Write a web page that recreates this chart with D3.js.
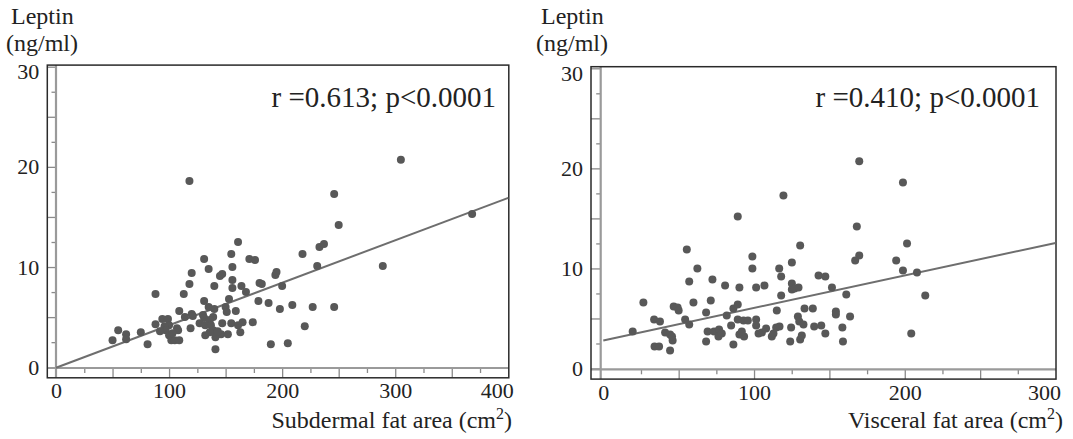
<!DOCTYPE html>
<html>
<head>
<meta charset="utf-8">
<script src="https://cdn.jsdelivr.net/npm/d3@7"></script>
<style>
  body { margin: 0; background: #fff; }
  svg text { font-family: "Liberation Serif", "Times New Roman", serif; fill: #222; }
</style>
</head>
<body>
<div id="chart"></div>
<script>
var width  = 1073;
var height = 439;

// Leptin (ng/ml) vs subdermal fat area (cm2)
var subX = [118,305,246,250,368,161,218,233,237,131,155,171,176,135,156,231,289,120,145,147,
            194,195,156,118,140,156,164,180,182,200,168,88,113,153,131,179,188,209,135,140,
            150,151,159,109,198,227,246,120,121,114,130,131,139,136,94,99,88,100,96,107,
            119,127,132,137,147,155,161,165,174,55,75,62,62,50,81,97,100,102,105,109,
            108,132,139,141,146,152,163,141,190,205,220,92,103,136,143];
var subY = [18.6,20.7,17.3,14.2,15.3,12.5,11.3,12.0,12.3,10.8,11.3,10.8,10.7,9.8,10.0,10.1,10.1,9.4,9.1,9.3,
            9.2,9.5,8.7,8.3,8.1,7.9,8.1,8.4,8.3,8.1,7.5,7.3,7.3,6.8,6.6,6.6,6.4,6.2,6.0,5.8,
            6.0,5.5,5.6,5.6,5.8,6.0,6.0,5.3,5.1,5.0,5.2,4.9,5.0,4.7,4.8,4.8,4.3,4.2,4.1,3.9,
            3.9,4.4,4.2,4.2,4.4,4.4,4.2,4.5,4.5,3.7,3.5,3.3,2.8,2.7,2.3,3.7,3.2,2.7,2.7,2.7,
            3.7,3.2,3.7,3.0,3.3,3.3,3.5,1.8,2.3,2.4,4.1,3.6,3.4,3.5,3.6];

// Leptin (ng/ml) vs visceral fat area (cm2)
var visX = [19.5,26.6,33.7,37.6,34,37,44.3,41,44.3,46,45.6,46.7,49.3,50,55.4,54.3,57,57,62.4,59.8,
            68.2,71.3,72.4,68.2,69.2,73.5,76.8,76.4,78.6,80.8,81.9,84.8,86.3,86.3,89.2,89.2,90.3,89.2,93,95.9,
            90.3,93.4,91.9,98.9,98.9,101.4,101.4,101.4,103,105.2,106.9,108,111.8,112.9,115.1,114.7,116.7,118,118,119.5,
            116.9,124,125.1,125.1,125.1,126.9,129.5,124.6,129.1,130,132.8,130.6,131.7,130.6,133.5,139,139.9,142.8,147.3,151.7,
            161.2,154.3,154.3,163.7,144.6,147.3,158.6,159,169.8,198.8,168.2,201.5,169.8,167.1,194.3,198.8,208.1,213.6,204.3];
var visY = [3.7,6.6,4.9,4.7,2.2,2.2,1.8,3.6,3.4,2.8,3.2,6.2,6.1,5.8,11.9,4.9,4.4,8.7,10.0,6.6,
            5.6,6.8,8.9,2.7,3.7,3.7,3.9,3.2,3.5,8.3,5.3,4.3,2.4,6.0,6.4,15.2,8.1,4.9,4.8,4.8,
            3.4,3.2,3.7,11.2,10.0,8.1,4.9,4.3,3.5,3.6,8.3,4.0,3.2,3.5,5.8,4.1,10.0,9.2,7.3,17.3,
            4.2,2.7,10.6,8.5,7.9,8.0,8.1,4.1,5.2,4.7,4.4,2.9,3.3,12.3,6.0,6.0,4.2,9.3,9.2,8.1,
            7.4,5.7,5.4,5.2,4.3,3.5,4.1,2.7,20.7,18.6,14.2,12.5,11.3,10.8,10.8,9.8,9.6,7.3,3.5];

// fitted lines [intercept, slope]
var subFit = [-0.05, 0.0424];
var visFit = [2.8, 0.0325];

var yLabelTicks  = [0, 10, 20, 30];
var subXTicks    = [0, 100, 200, 300, 400];
var visXTicks    = [0, 100, 200, 300];
var yTitle       = ["Leptin", "(ng/ml)"];
var subTitle     = "Subdermal fat area (cm";
var visTitle     = "Visceral fat area (cm";
var subStat      = "r =0.613; p<0.0001";
var visStat      = "r =0.410; p<0.0001";

var svg = d3.select("#chart").append("svg")
      .attr("width", width)
      .attr("height", height);

function drawPanel(p) {
  var x = d3.scaleLinear().domain([0, p.xMax]).range(p.xRange);
  var y = d3.scaleLinear().domain([0, 30]).range(p.yRange);

  var axisX = x(0) - p.axisShift;     // inner vertical axis line
  var axisY = y(0) + 0.8;             // inner horizontal axis line
  var left = p.frameLeft, right = x(p.xMax) + 0.5;
  var top = y(30) - 1.6, bottom = axisY + 9.8;

  var g = svg.append("g");

  // y ticks (long every 5, short every 2.5)
  g.append("g").attr("transform", "translate(" + axisX + ",0)")
    .call(d3.axisLeft(y).tickValues(d3.range(0, 31, 5)).tickSize(axisX - left).tickFormat(""))
    .call(function (s) { s.select(".domain").remove(); });
  g.append("g").attr("transform", "translate(" + axisX + ",0)")
    .call(d3.axisLeft(y).tickValues(d3.range(2.5, 30, 5)).tickSize(4.5).tickFormat(""))
    .call(function (s) { s.select(".domain").remove(); });

  // x ticks (long every 50, short every 25)
  g.append("g").attr("transform", "translate(0," + axisY + ")")
    .call(d3.axisBottom(x).tickValues(d3.range(50, p.xMax, 50)).tickSize(bottom - axisY).tickFormat(""))
    .call(function (s) { s.select(".domain").remove(); });
  g.append("g").attr("transform", "translate(0," + axisY + ")")
    .call(d3.axisBottom(x).tickValues(d3.range(25, p.xMax, 50)).tickSize(5).tickFormat(""))
    .call(function (s) { s.select(".domain").remove(); });

  g.selectAll(".tick line").attr("stroke", "#8a8a8a").attr("stroke-width", 1.3);

  // inner axis lines
  g.append("line").attr("x1", axisX).attr("x2", axisX).attr("y1", top).attr("y2", bottom)
    .attr("stroke", "#9a9a9a").attr("stroke-width", 2.2);
  g.append("line").attr("x1", left).attr("x2", right).attr("y1", axisY).attr("y2", axisY)
    .attr("stroke", "#9a9a9a").attr("stroke-width", 2.2);

  // frame
  g.append("rect").attr("x", left).attr("y", top)
    .attr("width", right - left).attr("height", bottom - top)
    .attr("fill", "none").attr("stroke", "#2a2a2a").attr("stroke-width", 1.5);

  // tick labels
  var yl = g.append("g").attr("transform", "translate(" + left + ",0)")
    .call(d3.axisLeft(y).tickValues(yLabelTicks).tickSize(0).tickPadding(8));
  yl.select(".domain").remove();
  yl.selectAll("text").style("font-size", "22px").attr("fill", "#222")
    .attr("font-family", null);
  yl.selectAll(".tick").filter(function (d) { return d === 30; }).select("text").attr("dy", "0.55em");

  var xl = g.append("g").attr("transform", "translate(0," + bottom + ")")
    .call(d3.axisBottom(x).tickValues(p.xTicks).tickSize(0).tickPadding(5));
  xl.select(".domain").remove();
  xl.selectAll("text").style("font-size", "22px").attr("fill", "#222")
    .attr("font-family", null);
  xl.selectAll(".tick").filter(function (d) { return d === p.xMax; }).select("text")
    .attr("text-anchor", "end").attr("x", 5);

  // axis titles
  g.append("text").attr("x", p.titleX[0]).attr("y", 23.5).style("font-size", "24px").text(yTitle[0]);
  g.append("text").attr("x", p.titleX[1]).attr("y", 51).style("font-size", "24px").text(yTitle[1]);

  var xt = g.append("text").attr("x", p.xTitleRight).attr("y", 428)
    .attr("text-anchor", "end").style("font-size", "24px");
  xt.append("tspan").text(p.xTitle);
  xt.append("tspan").attr("dy", -9).style("font-size", "16px").text("2");
  xt.append("tspan").attr("dy", 9).text(")");

  // regression line
  g.append("line")
    .attr("x1", x(0)).attr("y1", y(p.fit[0]))
    .attr("x2", x(p.xMax)).attr("y2", y(p.fit[0] + p.fit[1] * p.xMax))
    .attr("stroke", "#6e6e6e").attr("stroke-width", 2);

  // points
  g.append("g").selectAll("circle")
    .data(d3.range(p.xs.length))
    .enter().append("circle")
    .attr("cx", function (i) { return x(p.xs[i]); })
    .attr("cy", function (i) { return y(p.ys[i]); })
    .attr("r", 4)
    .attr("fill", "#585858");

  // stat label
  g.append("text").attr("x", p.statRight).attr("y", 107)
    .attr("text-anchor", "end").style("font-size", "29px").text(p.stat);
}

drawPanel({
  xs: subX, ys: subY, fit: subFit, xMax: 400, xTicks: subXTicks,
  xRange: [56, 508.3], yRange: [367.2, 66.7], axisShift: 0, frameLeft: 47.3,
  titleX: [11, 6], xTitle: subTitle, xTitleRight: 512, stat: subStat, statRight: 496
});

drawPanel({
  xs: visX, ys: visY, fit: visFit, xMax: 300, xTicks: visXTicks,
  xRange: [603.3, 1055.5], yRange: [368.5, 68.3], axisShift: 2.6, frameLeft: 591,
  titleX: [541, 536], xTitle: visTitle, xTitleRight: 1063, stat: visStat, statRight: 1040
});
</script>
</body>
</html>
